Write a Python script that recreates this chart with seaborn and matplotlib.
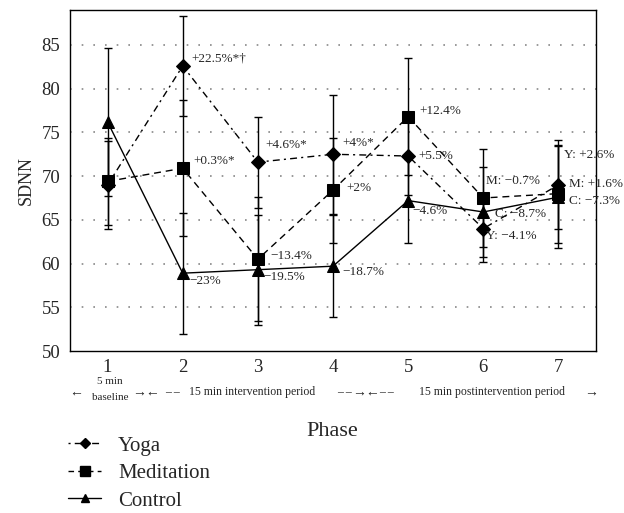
import seaborn as sns
import matplotlib.pyplot as plt
from matplotlib.lines import Line2D
from matplotlib.ticker import FixedLocator
from matplotlib.transforms import blended_transform_factory

# data
phases = [1, 2, 3, 4, 5, 6, 7]
yoga = [69.0, 82.6, 71.6, 72.5, 72.3, 64.0, 69.0]
yoga_sd = [5.0, 5.7, 5.2, 6.8, 4.5, 3.8, 5.1]
meditation = [69.4, 70.9, 60.5, 68.4, 76.8, 67.5, 68.0]
meditation_sd = [5.0, 7.8, 7.1, 6.0, 6.7, 5.6, 5.6]
control = [76.2, 58.9, 59.3, 59.7, 67.2, 65.9, 67.6]
control_sd = [8.5, 6.9, 6.3, 5.8, 4.8, 5.2, 5.8]
series_names = ['Yoga', 'Meditation', 'Control']

note_labels = ['+22.5%*\u2020', '+0.3%*', '+4.6%*', '+4%*', '+12.4%', '+5.5%',
               '+2%', 'M: \u22120.7%', 'Y: +2.6%', 'M: +1.6%', 'C: \u22127.3%',
               'C: \u22128.7%', 'Y: \u22124.1%', '\u22124.6%', '\u221218.7%',
               '\u221223%', '\u221213.4%', '\u221219.5%']
note_xy = [(2.12, 83.5), (2.14, 71.7), (3.10, 73.6), (4.12, 73.8), (5.15, 77.5),
           (5.13, 72.3), (4.18, 68.6), (6.03, 69.5), (7.07, 72.4), (7.14, 69.1),
           (7.14, 67.2), (6.16, 65.65), (6.03, 63.2), (5.05, 66.0), (4.12, 59.0),
           (2.09, 58.0), (3.16, 60.9), (3.08, 58.45)]

arrow_labels = ['\u2190', '\u2192\u2190', '\u2192\u2190', '\u2192']
arrow_x = [0.58, 1.51, 4.44, 7.43]
period_labels = ['\u2013 \u2013', '15 min intervention period', '\u2013 \u2013',
                 '\u2013 \u2013', '15 min postintervention period']
period_x = [1.86, 2.92, 4.15, 4.71, 6.12]

sns.set_style('white')
plt.rcParams['font.family'] = ['Liberation Serif', 'DejaVu Serif']
plt.rcParams['axes.unicode_minus'] = True

fig = plt.figure(figsize=(6.24, 5.13), dpi=100)
ax = fig.add_axes([70 / 624, 1 - 351 / 513, 526 / 624, 341 / 513])

styles = {
    'Yoga': dict(marker='D', markersize=7.5, linestyle=(0, (5, 3, 1.5, 3))),
    'Meditation': dict(marker='s', markersize=8, linestyle=(0, (5, 3.5))),
    'Control': dict(marker='^', markersize=8.5, linestyle='-'),
}
values = {'Yoga': (yoga, yoga_sd), 'Meditation': (meditation, meditation_sd),
          'Control': (control, control_sd)}

for name in series_names:
    vals, sd = values[name]
    ax.errorbar(phases, vals, yerr=sd, fmt='none', ecolor='black',
                elinewidth=1.0, capsize=3, capthick=1.0, zorder=2)
    sns.lineplot(x=phases, y=vals, ax=ax, color='black', linewidth=1.0,
                 markeredgecolor='black', markerfacecolor='black',
                 zorder=3, **styles[name])

ax.set_xlim(0.5, 7.5)
ax.set_ylim(50, 89)
ax.set_yticks(range(50, 90, 5))
ax.xaxis.set_major_locator(FixedLocator(phases))
ax.xaxis.set_minor_locator(FixedLocator([p + 0.5 for p in range(0, 8)]))
ax.tick_params(axis='x', which='major', length=0, labelsize=13.5, pad=6)
ax.tick_params(axis='x', which='minor', length=6, direction='inout', width=0.8)
ax.tick_params(axis='y', length=4, direction='out', width=0.8, labelsize=13.5, pad=3)
for y in range(55, 90, 5):
    ax.axhline(y, color='#888888', lw=1.2, linestyle=(0, (1, 6)), zorder=1)
for sp in ax.spines.values():
    sp.set_linewidth(1.0)
    sp.set_color('black')
ax.set_xlabel('')
ax.set_ylabel('SDNN', fontsize=13, labelpad=5)

for label, (x, y) in zip(note_labels, note_xy):
    ax.text(x, y, label, fontsize=9.5, ha='left', va='center', zorder=4)

# phase period row under the axis
tr = blended_transform_factory(ax.transData, fig.transFigure)
row_y = 1 - 392 / 513
for label, x in zip(arrow_labels, arrow_x):
    fig.text(x, row_y, label, transform=tr, fontsize=10, ha='center', va='center')
for label, x in zip(period_labels, period_x):
    fig.text(x, row_y, label, transform=tr, fontsize=8.5, ha='center', va='center')
fig.text(1.03, 1 - 382 / 513, '5 min', transform=tr, fontsize=8, ha='center', va='center')
fig.text(1.03, 1 - 398 / 513, 'baseline', transform=tr, fontsize=8, ha='center', va='center')

fig.text(332 / 624, 1 - 432 / 513, 'Phase', fontsize=16, ha='center', va='center')

handles = [
    Line2D([], [], color='black', lw=1.0, marker='D', markersize=5,
           linestyle=(0, (1.5, 3, 5, 3))),
    Line2D([], [], color='black', lw=1.0, marker='s', markersize=7,
           linestyle=(0, (4, 3))),
    Line2D([], [], color='black', lw=1.0, marker='^', markersize=6, linestyle='-'),
]
ax.legend(handles, series_names, loc='upper left', frameon=False,
          bbox_to_anchor=(68 / 624, 1 - 436 / 513), bbox_transform=fig.transFigure,
          fontsize=15, handlelength=1.6, handletextpad=0.8, labelspacing=0.38,
          borderpad=0, borderaxespad=0)

fig.savefig('out.png', dpi=100)
